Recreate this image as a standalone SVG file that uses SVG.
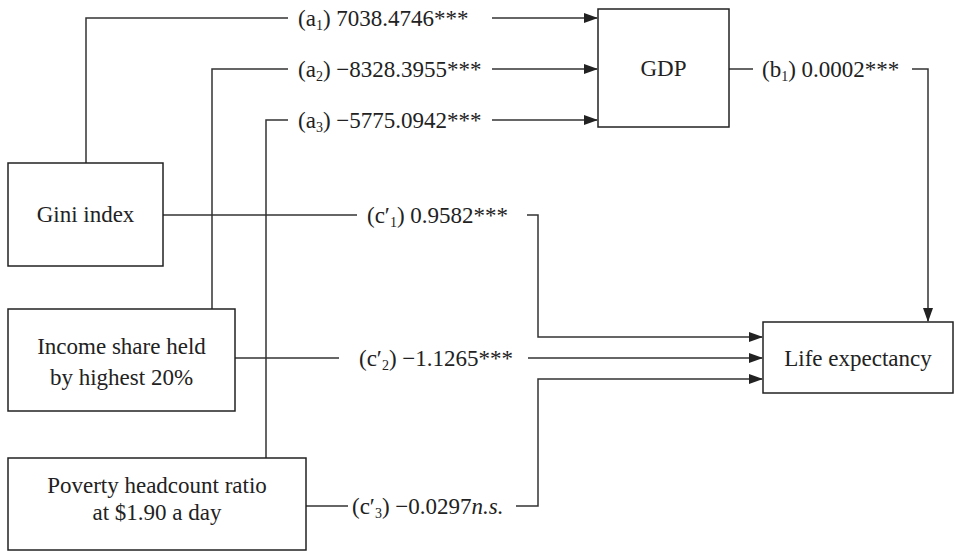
<svg xmlns="http://www.w3.org/2000/svg" width="963" height="552" viewBox="0 0 963 552">
<style>
.box{fill:#fff;stroke:#222;stroke-width:1.5}
.ln{fill:none;stroke:#333;stroke-width:1.5}
.t{font-family:"Times New Roman","Liberation Serif",Tinos,serif;font-size:23px;fill:#222}
.s{font-size:14px}
</style>
<defs>
<marker id="ah" markerWidth="14" markerHeight="10" refX="13" refY="5" orient="auto" markerUnits="userSpaceOnUse">
<path d="M0,0 L14,5 L0,10 Z" fill="#222"/>
</marker>
</defs>
<rect width="963" height="552" fill="#fff"/>
<g id="connectors">
<path class="ln" d="M86,163 V18 H288"/>
<path class="ln" d="M492,18 H597" marker-end="url(#ah)"/>
<path class="ln" d="M212,309 V69 H288"/>
<path class="ln" d="M492,69 H597" marker-end="url(#ah)"/>
<path class="ln" d="M266,458 V120 H288"/>
<path class="ln" d="M492,120 H597" marker-end="url(#ah)"/>
<path class="ln" d="M729,69 H753"/>
<path class="ln" d="M912,69 H928 V321" marker-end="url(#ah)"/>
<path class="ln" d="M163,215 H357"/>
<path class="ln" d="M527,215 H538 V337 H762" marker-end="url(#ah)"/>
<path class="ln" d="M235,358 H339"/>
<path class="ln" d="M528,358 H762" marker-end="url(#ah)"/>
<path class="ln" d="M306,506 H348"/>
<path class="ln" d="M516,506 H538 V379 H762" marker-end="url(#ah)"/>
<text class="t" x="298" y="26">(a<tspan class="s" dy="4">1</tspan><tspan dy="-4">) 7038.4746***</tspan></text>
<text class="t" x="298" y="77">(a<tspan class="s" dy="4">2</tspan><tspan dy="-4">) −8328.3955***</tspan></text>
<text class="t" x="298" y="128">(a<tspan class="s" dy="4">3</tspan><tspan dy="-4">) −5775.0942***</tspan></text>
<text class="t" x="762" y="77">(b<tspan class="s" dy="4">1</tspan><tspan dy="-4">) 0.0002***</tspan></text>
<text class="t" x="367" y="223">(c′<tspan class="s" dy="4">1</tspan><tspan dy="-4">) 0.9582***</tspan></text>
<text class="t" x="359" y="366">(c′<tspan class="s" dy="4">2</tspan><tspan dy="-4">) −1.1265***</tspan></text>
<text class="t" x="352" y="514">(c′<tspan class="s" dy="4">3</tspan><tspan dy="-4">) −0.0297<tspan font-style="italic">n.s.</tspan></tspan></text>
</g>
<g id="gini">
<rect class="box" x="8" y="163" width="155" height="103"/>
<text class="t" x="85.5" y="222" text-anchor="middle">Gini index</text>
</g>
<g id="income">
<rect class="box" x="8" y="309" width="227" height="102"/>
<text class="t" x="121.5" y="354" text-anchor="middle">Income share held</text>
<text class="t" x="121.5" y="385" text-anchor="middle">by highest 20%</text>
</g>
<g id="poverty">
<rect class="box" x="8" y="458" width="298" height="92"/>
<text class="t" x="157" y="493" text-anchor="middle">Poverty headcount ratio</text>
<text class="t" x="157" y="520" text-anchor="middle">at $1.90 a day</text>
</g>
<g id="gdp">
<rect class="box" x="598" y="9" width="131" height="118"/>
<text class="t" x="663.5" y="76" text-anchor="middle">GDP</text>
</g>
<g id="life">
<rect class="box" x="763" y="322" width="190" height="71"/>
<text class="t" x="858" y="366" text-anchor="middle">Life expectancy</text>
</g>
</svg>
